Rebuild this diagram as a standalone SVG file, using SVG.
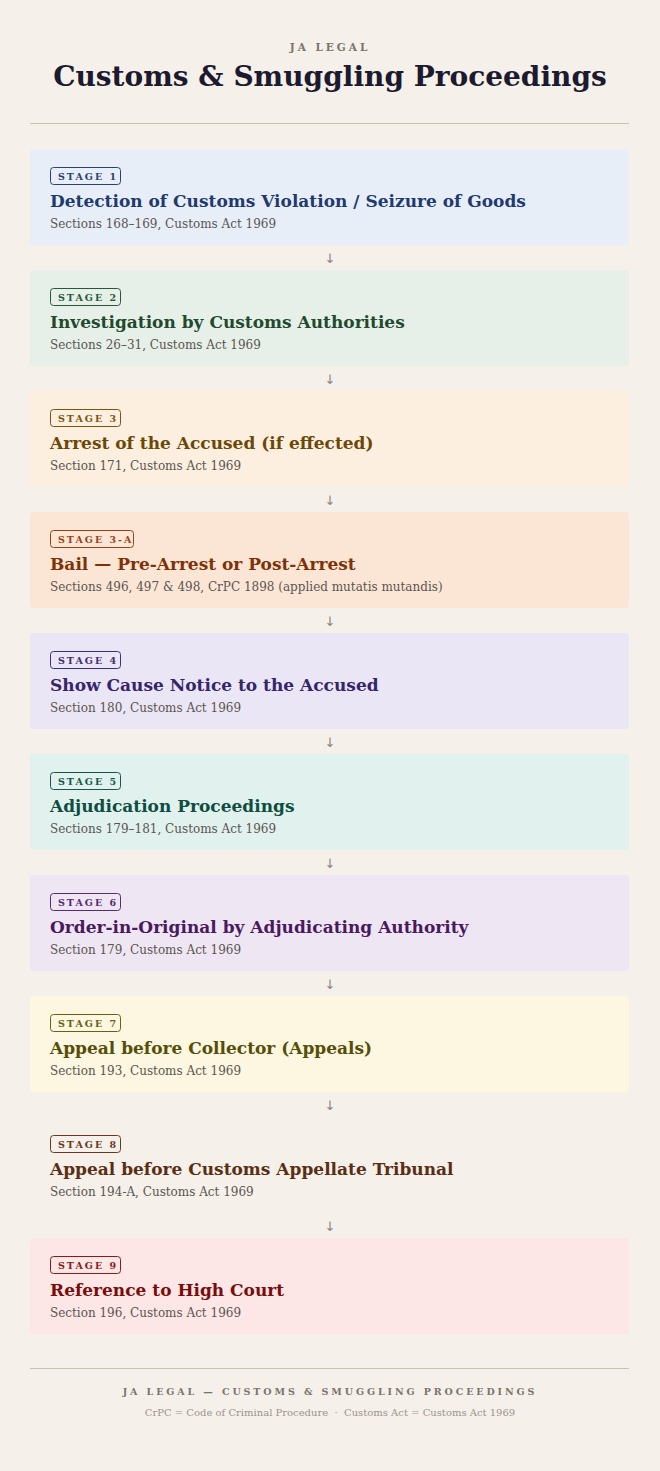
<svg xmlns="http://www.w3.org/2000/svg" width="660" height="1471" viewBox="0 0 660 1471">
<style>
.bg{fill:#f5f0ea}
.box{stroke:none}
.badge{fill:none;stroke-width:1}
.btxt{font-family:"DejaVu Serif",serif;font-size:9.5px;font-weight:bold;letter-spacing:2px}
.ttl{font-family:"DejaVu Serif",serif;font-size:17px;font-weight:bold}
.sub{font-family:"DejaVu Serif",serif;font-size:12px;fill:#5a5550}
.arr{font-family:"DejaVu Sans",sans-serif;font-size:13px;fill:#8a8580;text-anchor:middle}
</style>
<rect class="bg" x="0" y="0" width="660" height="1471"/>
<g id="header">
<text x="330" y="51" text-anchor="middle" font-family="DejaVu Serif,serif" font-size="10.5" font-weight="bold" letter-spacing="3" fill="#7a756a">JA LEGAL</text>
<text x="330" y="86" text-anchor="middle" font-family="DejaVu Serif,serif" font-size="28" font-weight="bold" fill="#1c1a2e">Customs &amp; Smuggling Proceedings</text>
<line x1="30" y1="123.5" x2="629" y2="123.5" stroke="#c8c3b2" stroke-width="1"/>
</g>
<g id="connectors">
<text class="arr" x="330" y="263">↓</text>
<text class="arr" x="330" y="384">↓</text>
<text class="arr" x="330" y="505">↓</text>
<text class="arr" x="330" y="626">↓</text>
<text class="arr" x="330" y="747">↓</text>
<text class="arr" x="330" y="868">↓</text>
<text class="arr" x="330" y="989">↓</text>
<text class="arr" x="330" y="1110">↓</text>
<text class="arr" x="330" y="1231">↓</text>
</g>
<g id="stage1">
<rect class="box" x="30" y="149" width="599" height="96" rx="3" fill="#e8eef8"/>
<rect class="badge" x="50.5" y="167.5" width="70" height="17" rx="3" stroke="#2a4272"/>
<text class="btxt" x="58" y="179.5" fill="#2a4272">STAGE 1</text>
<text class="ttl" x="50" y="207" fill="#1f3a6e">Detection of Customs Violation / Seizure of Goods</text>
<text class="sub" x="50" y="228">Sections 168–169, Customs Act 1969</text>
</g>
<g id="stage2">
<rect class="box" x="30" y="270" width="599" height="96" rx="3" fill="#e6f0e8"/>
<rect class="badge" x="50.5" y="288.5" width="70" height="17" rx="3" stroke="#245a38"/>
<text class="btxt" x="58" y="300.5" fill="#245a38">STAGE 2</text>
<text class="ttl" x="50" y="328" fill="#1f4a2e">Investigation by Customs Authorities</text>
<text class="sub" x="50" y="349">Sections 26–31, Customs Act 1969</text>
</g>
<g id="stage3">
<rect class="box" x="30" y="391" width="599" height="96" rx="3" fill="#fcefdf"/>
<rect class="badge" x="50.5" y="409.5" width="70" height="17" rx="3" stroke="#7a5510"/>
<text class="btxt" x="58" y="421.5" fill="#7a5510">STAGE 3</text>
<text class="ttl" x="50" y="449" fill="#6b4708">Arrest of the Accused (if effected)</text>
<text class="sub" x="50" y="470">Section 171, Customs Act 1969</text>
</g>
<g id="stage3a">
<rect class="box" x="30" y="512" width="599" height="96" rx="3" fill="#fbe6d6"/>
<rect class="badge" x="50.5" y="530.5" width="83" height="17" rx="3" stroke="#9a4218"/>
<text class="btxt" x="58" y="542.5" fill="#9a4218">STAGE 3-A</text>
<text class="ttl" x="50" y="570" fill="#7e3208">Bail — Pre-Arrest or Post-Arrest</text>
<text class="sub" x="50" y="591">Sections 496, 497 &amp; 498, CrPC 1898 (applied mutatis mutandis)</text>
</g>
<g id="stage4">
<rect class="box" x="30" y="633" width="599" height="96" rx="3" fill="#ebe6f5"/>
<rect class="badge" x="50.5" y="651.5" width="70" height="17" rx="3" stroke="#3e3070"/>
<text class="btxt" x="58" y="663.5" fill="#3e3070">STAGE 4</text>
<text class="ttl" x="50" y="691" fill="#35256a">Show Cause Notice to the Accused</text>
<text class="sub" x="50" y="712">Section 180, Customs Act 1969</text>
</g>
<g id="stage5">
<rect class="box" x="30" y="754" width="599" height="96" rx="3" fill="#e0f1ee"/>
<rect class="badge" x="50.5" y="772.5" width="70" height="17" rx="3" stroke="#17584a"/>
<text class="btxt" x="58" y="784.5" fill="#17584a">STAGE 5</text>
<text class="ttl" x="50" y="812" fill="#0f4d40">Adjudication Proceedings</text>
<text class="sub" x="50" y="833">Sections 179–181, Customs Act 1969</text>
</g>
<g id="stage6">
<rect class="box" x="30" y="875" width="599" height="96" rx="3" fill="#efe6f3"/>
<rect class="badge" x="50.5" y="893.5" width="70" height="17" rx="3" stroke="#5a2a74"/>
<text class="btxt" x="58" y="905.5" fill="#5a2a74">STAGE 6</text>
<text class="ttl" x="50" y="933" fill="#4a1a60">Order-in-Original by Adjudicating Authority</text>
<text class="sub" x="50" y="954">Section 179, Customs Act 1969</text>
</g>
<g id="stage7">
<rect class="box" x="30" y="996" width="599" height="96" rx="3" fill="#fdf6e0"/>
<rect class="badge" x="50.5" y="1014.5" width="70" height="17" rx="3" stroke="#6a6010"/>
<text class="btxt" x="58" y="1026.5" fill="#6a6010">STAGE 7</text>
<text class="ttl" x="50" y="1054" fill="#554e08">Appeal before Collector (Appeals)</text>
<text class="sub" x="50" y="1075">Section 193, Customs Act 1969</text>
</g>
<g id="stage8">
<rect class="box" x="30" y="1117" width="599" height="96" rx="3" fill="#f5f0ea"/>
<rect class="badge" x="50.5" y="1135.5" width="70" height="17" rx="3" stroke="#6a3a1e"/>
<text class="btxt" x="58" y="1147.5" fill="#6a3a1e">STAGE 8</text>
<text class="ttl" x="50" y="1175" fill="#5a2e12">Appeal before Customs Appellate Tribunal</text>
<text class="sub" x="50" y="1196">Section 194-A, Customs Act 1969</text>
</g>
<g id="stage9">
<rect class="box" x="30" y="1238" width="599" height="96" rx="3" fill="#fce7e6"/>
<rect class="badge" x="50.5" y="1256.5" width="70" height="17" rx="3" stroke="#8a1a1a"/>
<text class="btxt" x="58" y="1268.5" fill="#8a1a1a">STAGE 9</text>
<text class="ttl" x="50" y="1296" fill="#7a0c0c">Reference to High Court</text>
<text class="sub" x="50" y="1317">Section 196, Customs Act 1969</text>
</g>
<g id="footer">
<line x1="30" y1="1368.5" x2="629" y2="1368.5" stroke="#c8c3b2" stroke-width="1"/>
<text x="330" y="1395" text-anchor="middle" font-family="DejaVu Serif,serif" font-size="9.5" font-weight="bold" letter-spacing="2.9" fill="#7a756a">JA LEGAL — CUSTOMS &amp; SMUGGLING PROCEEDINGS</text>
<text x="330" y="1416" text-anchor="middle" font-family="DejaVu Serif,serif" font-size="10" fill="#9a958e" xml:space="preserve">CrPC = Code of Criminal Procedure  ·  Customs Act = Customs Act 1969</text>
</g>
</svg>
